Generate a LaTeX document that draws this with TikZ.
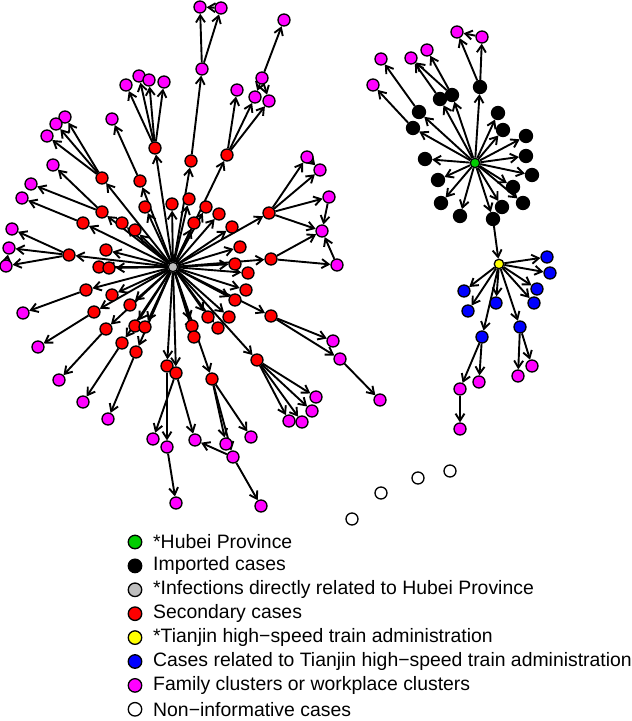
\documentclass[tikz,border=0pt]{standalone}
\usepackage{fontspec}
\setmainfont{Liberation Sans}
\usetikzlibrary{arrows.meta,positioning}
\pgfdeclarelayer{edges}
\pgfsetlayers{edges,main}
\definecolor{hubeigreen}{RGB}{0,205,0}
\definecolor{directgray}{RGB}{190,190,190}
\definecolor{clustermag}{RGB}{255,0,255}
\definecolor{secred}{RGB}{255,0,0}
\definecolor{relblue}{RGB}{0,0,255}
\definecolor{tjyellow}{RGB}{255,255,0}

\begin{document}
\begin{tikzpicture}[x=1pt,y=-1pt,>={Straight Barb[length=7pt,width=9pt]},
  every node/.style={font=\fontsize{19.4}{22}\selectfont},
  case/.style={circle,draw,line width=1.3pt,inner sep=0pt,minimum size=12pt},
  sec/.style={case,fill=secred},
  fam/.style={case,fill=clustermag},
  imp/.style={case,fill=black,minimum size=13pt},
  rel/.style={case,fill=relblue},
  noninf/.style={case,fill=white},
  hubnode/.style={case,minimum size=9.5pt},
  legdot/.style={case,minimum size=13.5pt},
  legtext/.style={anchor=west,inner sep=0pt},
  link/.style={->,line width=1.9pt}]
\useasboundingbox (0,0) rectangle (632,721);
% hubs
\node[hubnode,fill=directgray] (hg) at (173,267) {};
\node[hubnode,fill=hubeigreen] (hb) at (475,163) {};
\node[hubnode,fill=tjyellow] (tj) at (499,264) {};
% secondary cases
\foreach \n/\x/\y in {s1/155/148,s2/102/178,s3/140/181,s4/172/204,s5/145/207,s6/102/212,
  s7/83/223,s8/122/223,s9/135/230,s10/69/255,s11/106/250,s12/99/267,s13/109/268,s14/86/290,
  s15/112/295,s16/130/305,s17/94/312,s18/135/326,s19/145/327,s20/106/329,s21/122/343,
  s22/136/352,s23/167/366,s24/176/373,s25/191/161,s26/227/155,s27/189/199,s28/206/207,
  s29/194/223,s30/219/214,s31/232/227,s32/269/213,s33/240/247,s34/235/264,s35/271/259,
  s36/248/273,s37/246/290,s38/235/300,s39/271/316,s40/208/317,s41/229/317,s42/218/328,
  s43/192/326,s44/194/337,s45/212/379,s46/257/360}
  \node[sec] (\n) at (\x,\y) {};
% family or workplace clusters
\foreach \n/\x/\y in {f1/126/85,f2/139/76,f3/149/80,f4/164/82,f5/112/119,f6/65/117,f7/56/124,
  f8/47/136,f9/53/165,f10/31/184,f11/22/198,f12/12/229,f13/9/248,f14/6/266,f15/23/313,
  f16/38/347,f17/59/380,f18/83/402,f19/108/419,f20/153/439,f21/167/447,f22/176/503,
  f23/195/440,f24/226/444,f25/233/457,f26/251/437,f27/261/506,f28/316/397,f29/312/411,
  f30/289/421,f31/302/422,f32/333/341,f33/340/359,f34/380/400,f35/322/231,f36/329/197,
  f37/337/265,f38/307/157,f39/320/170,f40/200/7,f41/221/8,f42/202/69,f43/284/20,f44/262/78,
  f45/237/90,f46/255/97,f47/269/101,f48/457/32,f49/482/37,f50/411/58,f51/427/50,f52/381/59,
  f53/373/85,f54/460/389,f55/479/382,f56/460/429,f57/518/376,f58/532/366}
  \node[fam] (\n) at (\x,\y) {};
% imported cases
\foreach \n/\x/\y in {i1/480/87,i2/440/99,i3/452/95,i4/419/112,i5/413/128,i6/498/113,
  i7/503/130,i8/526/136,i9/526/156,i10/532/175,i11/425/159,i12/438/180,i13/513/187,
  i14/523/203,i15/441/203,i16/460/216,i17/502/207,i18/493/219}
  \node[imp] (\n) at (\x,\y) {};
% train administration cases
\foreach \n/\x/\y in {c1/547/257,c2/550/273,c3/464/291,c4/537/289,c5/468/311,c6/496/303,
  c7/534/303,c8/520/327,c9/482/337}
  \node[rel] (\n) at (\x,\y) {};
% non-informative
\foreach \n/\x/\y in {n1/450/471,n2/418/478,n3/381/493,n4/352/519}
  \node[noninf] (\n) at (\x,\y) {};

\begin{pgfonlayer}{edges}
\foreach \k in {1,...,46} \draw[link] (hg) -- (s\k);
\foreach \k in {1,...,18} \draw[link] (hb) -- (i\k);
\foreach \k in {1,...,9} \draw[link] (tj) -- (c\k);
\foreach \a/\b in {s1/f1,s1/f2,s1/f3,s1/f4,s3/f5,s2/f6,s2/f7,s2/f8,s6/f9,s6/f10,s7/f11,
  s10/f12,s10/f13,s10/f14,f14/f13,s14/f15,s17/f16,s20/f17,s21/f18,s22/f19,s24/f20,s23/f21,
  f21/f22,s24/f23,f25/f23,s45/f24,s45/f25,s45/f26,f25/f27,s46/f28,s46/f29,s46/f30,s46/f31,
  s39/f32,s39/f33,f33/f34,s32/f35,s35/f35,f36/f35,f37/f35,s32/f36,s35/f37,s32/f38,s32/f39,
  f38/f39,s25/f42,f42/f40,f42/f41,f41/f40,s26/f45,s26/f46,s26/f47,f44/f43,f44/f46,f44/f47,
  i1/f48,i1/f49,f49/f48,i2/f50,i3/f50,i3/f51,i4/f52,i5/f53,i18/tj,
  c9/f54,c9/f55,f54/f56,c8/f57,c8/f58}
  \draw[link] (\a) -- (\b);
\end{pgfonlayer}

% legend
\foreach \k/\c/\t in {0/hubeigreen/*Hubei Province,1/black/Imported cases,
  2/directgray/*Infections directly related to Hubei Province,3/secred/Secondary cases,
  4/tjyellow/*Tianjin high−speed train administration,
  5/relblue/Cases related to Tianjin high−speed train administration,
  6/clustermag/Family clusters or workplace clusters,7/white/Non−informative cases}{
  \node[legdot,fill=\c] (l\k) at (135,542+23.9*\k) {};
  \node[legtext] (t\k) at (153,542+23.9*\k) {\t};
}
\end{tikzpicture}
\end{document}
